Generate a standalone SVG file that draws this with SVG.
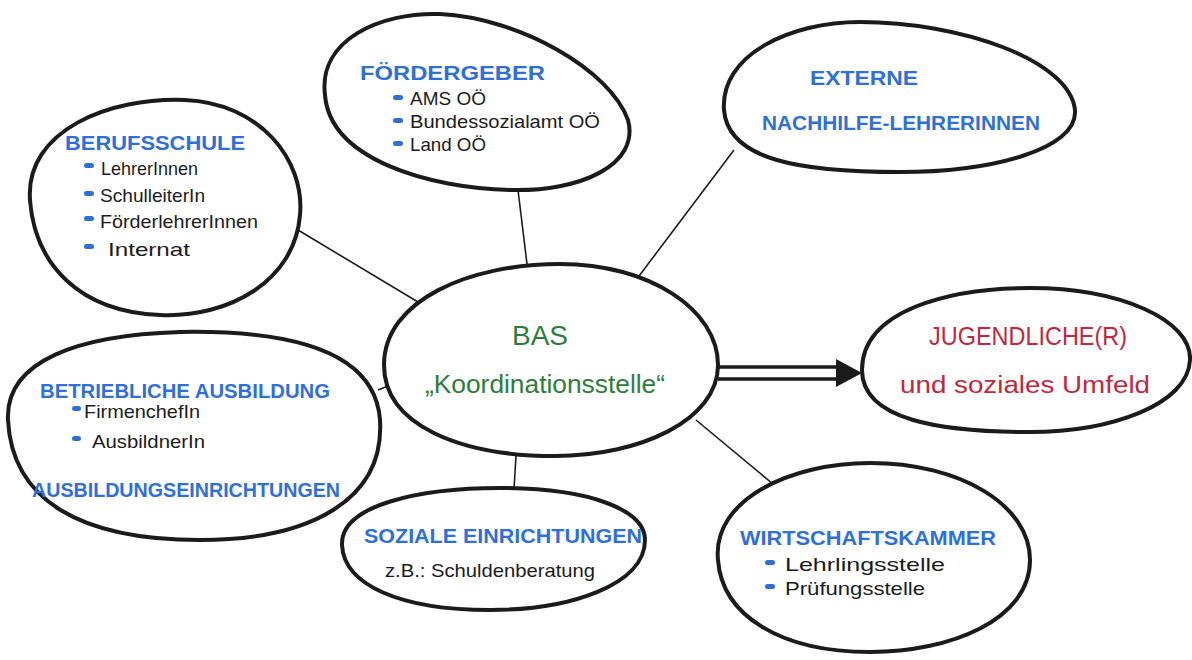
<svg xmlns="http://www.w3.org/2000/svg" width="1192" height="660" viewBox="0 0 1192 660">
<style>
.blob{fill:#fff;stroke:#1b1b1b;stroke-width:4;stroke-linejoin:round}
.con{stroke:#1b1b1b;stroke-width:1.6;fill:none}
.t{font-family:"Liberation Sans",Arial,sans-serif;font-weight:bold;fill:#2f6fd8}
.i{font-family:"Liberation Sans",Arial,sans-serif;fill:#1b1b1b;font-size:18.5px}
.d{fill:#2f6fd8}
.g{font-family:"Liberation Sans",Arial,sans-serif;fill:#2e7d3a}
.r{font-family:"Liberation Sans",Arial,sans-serif;fill:#c0283c}
</style>
<rect width="1192" height="660" fill="#fff"/>
<g id="connectors">
<line class="con" x1="298" y1="230" x2="418" y2="302"/>
<line class="con" x1="518" y1="190" x2="527" y2="264"/>
<line class="con" x1="734" y1="150" x2="633" y2="284"/>
<line class="con" x1="378" y1="390" x2="388" y2="386"/>
<line class="con" x1="516" y1="456" x2="514" y2="489"/>
<line class="con" x1="696" y1="420" x2="773" y2="484"/>
<line x1="718" y1="367" x2="845" y2="367" stroke="#1b1b1b" stroke-width="3.5"/>
<line x1="718" y1="379" x2="845" y2="379" stroke="#1b1b1b" stroke-width="3.5"/>
<polygon points="836,359 862,373 836,387" fill="#1b1b1b"/>
</g>
<g id="berufsschule">
<path class="blob" d="M30,200 C25,130 110,97 185,100 C260,103 305,160 300,215 C295,280 230,318 160,315 C80,312 35,265 30,200 Z"/>
<text class="t" x="65" y="150" font-size="21" textLength="180" lengthAdjust="spacingAndGlyphs">BERUFSSCHULE</text>
<rect class="d" x="84" y="163" width="10" height="5" rx="2.5"/>
<text class="i" x="101" y="175" textLength="97" lengthAdjust="spacingAndGlyphs">LehrerInnen</text>
<rect class="d" x="84" y="191" width="10" height="5" rx="2.5"/>
<text class="i" x="100" y="202" textLength="105" lengthAdjust="spacingAndGlyphs">SchulleiterIn</text>
<rect class="d" x="84" y="216" width="10" height="5" rx="2.5"/>
<text class="i" x="100" y="228" textLength="158" lengthAdjust="spacingAndGlyphs">FörderlehrerInnen</text>
<rect class="d" x="84" y="244" width="10" height="5" rx="2.5"/>
<text class="i" x="108" y="256" textLength="82" lengthAdjust="spacingAndGlyphs">Internat</text>
</g>
<g id="foerdergeber">
<path class="blob" d="M325,95 C318,40 380,12 440,14 C520,18 610,70 628,120 C640,165 580,192 510,190 C430,188 330,160 325,95 Z"/>
<text class="t" x="360" y="80" font-size="21" textLength="185" lengthAdjust="spacingAndGlyphs">FÖRDERGEBER</text>
<rect class="d" x="393" y="95" width="10" height="5" rx="2.5"/>
<text class="i" x="410" y="105" textLength="76" lengthAdjust="spacingAndGlyphs">AMS OÖ</text>
<rect class="d" x="393" y="118" width="10" height="5" rx="2.5"/>
<text class="i" x="410" y="128" textLength="190" lengthAdjust="spacingAndGlyphs">Bundessozialamt OÖ</text>
<rect class="d" x="393" y="141" width="10" height="5" rx="2.5"/>
<text class="i" x="410" y="151" textLength="76" lengthAdjust="spacingAndGlyphs">Land OÖ</text>
</g>
<g id="externe">
<path class="blob" d="M724,110 C720,55 790,22 860,22 C960,22 1070,60 1075,110 C1078,150 990,172 900,172 C800,172 728,160 724,110 Z"/>
<text class="t" x="810" y="85" font-size="20" textLength="108" lengthAdjust="spacingAndGlyphs">EXTERNE</text>
<text class="t" x="762" y="130" font-size="20" textLength="278" lengthAdjust="spacingAndGlyphs">NACHHILFE-LEHRERINNEN</text>
</g>
<g id="bas">
<path class="blob" d="M384,365 C384,300 470,264 560,264 C650,264 718,310 718,365 C718,420 640,456 555,456 C460,456 384,425 384,365 Z"/>
<text class="g" x="540" y="345" font-size="28" text-anchor="middle">BAS</text>
<text class="g" x="545" y="393" font-size="25" text-anchor="middle" textLength="240" lengthAdjust="spacingAndGlyphs">„Koordinationsstelle“</text>
</g>
<g id="jugendliche">
<path class="blob" d="M862,370 C862,310 950,288 1030,288 C1120,288 1192,320 1190,360 C1188,405 1110,432 1030,432 C940,432 862,420 862,370 Z"/>
<text class="r" x="1028" y="345" font-size="25" text-anchor="middle" textLength="198" lengthAdjust="spacingAndGlyphs">JUGENDLICHE(R)</text>
<text class="r" x="1025" y="393" font-size="23" text-anchor="middle" textLength="250" lengthAdjust="spacingAndGlyphs">und soziales Umfeld</text>
</g>
<g id="betriebliche">
<path class="blob" d="M8,420 C5,360 80,335 180,332 C290,330 375,350 380,420 C385,500 310,540 200,540 C80,540 12,500 8,420 Z"/>
<text class="t" x="40" y="398" font-size="20" textLength="290" lengthAdjust="spacingAndGlyphs">BETRIEBLICHE AUSBILDUNG</text>
<rect class="d" x="72" y="406" width="9" height="5" rx="2.5"/>
<text class="i" x="84" y="418" textLength="116" lengthAdjust="spacingAndGlyphs">FirmenchefIn</text>
<rect class="d" x="72" y="436" width="9" height="5" rx="2.5"/>
<text class="i" x="92" y="448" textLength="113" lengthAdjust="spacingAndGlyphs">AusbildnerIn</text>
<text class="t" x="32" y="497" font-size="20" textLength="308" lengthAdjust="spacingAndGlyphs">AUSBILDUNGSEINRICHTUNGEN</text>
</g>
<g id="soziale">
<path class="blob" d="M342,545 C340,505 420,488 500,488 C590,488 645,510 645,540 C645,585 570,610 490,610 C400,610 344,585 342,545 Z"/>
<text class="t" x="364" y="543" font-size="20" textLength="278" lengthAdjust="spacingAndGlyphs">SOZIALE EINRICHTUNGEN</text>
<text class="i" x="385" y="577" textLength="210" lengthAdjust="spacingAndGlyphs">z.B.: Schuldenberatung</text>
</g>
<g id="wirtschaftskammer">
<path class="blob" d="M718,560 C712,500 790,463 870,463 C960,463 1030,505 1030,560 C1030,620 950,652 870,652 C780,652 722,615 718,560 Z"/>
<text class="t" x="740" y="545" font-size="21" textLength="256" lengthAdjust="spacingAndGlyphs">WIRTSCHAFTSKAMMER</text>
<rect class="d" x="765" y="560" width="10" height="5" rx="2.5"/>
<text class="i" x="785" y="571" textLength="160" lengthAdjust="spacingAndGlyphs">Lehrlingsstelle</text>
<rect class="d" x="765" y="584" width="10" height="5" rx="2.5"/>
<text class="i" x="785" y="595" textLength="140" lengthAdjust="spacingAndGlyphs">Prüfungsstelle</text>
</g>
</svg>
